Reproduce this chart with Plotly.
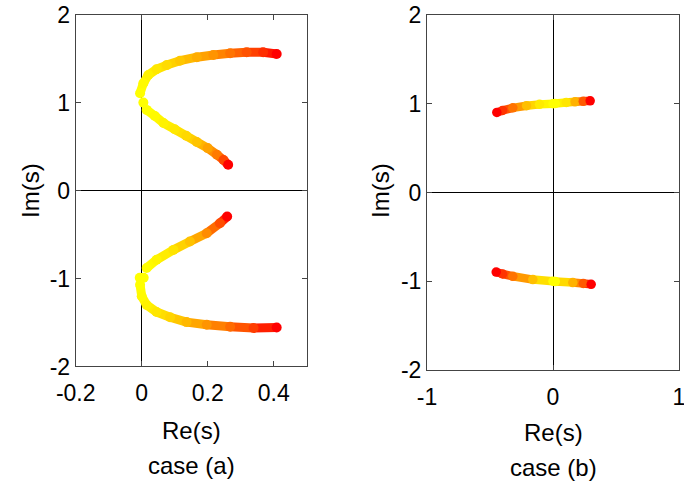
import plotly.graph_objects as go

# ---------------- case (a) ----------------
# upper half, long branch (from near s = j toward upper right)
a_ul_re = [-0.005, 0.005, 0.020, 0.045, 0.076, 0.116, 0.167, 0.217, 0.268, 0.318, 0.368, 0.409]
a_ul_im = [1.110, 1.224, 1.318, 1.383, 1.430, 1.480, 1.520, 1.545, 1.565, 1.576, 1.576, 1.557]
a_ul_c  = [0.00, 0.02, 0.05, 0.09, 0.14, 0.22, 0.32, 0.42, 0.55, 0.68, 0.82, 1.00]
# upper half, short branch (toward real axis)
a_us_re = [0.015, 0.040, 0.066, 0.100, 0.135, 0.167, 0.200, 0.228, 0.248, 0.262]
a_us_im = [0.920, 0.850, 0.770, 0.700, 0.625, 0.555, 0.485, 0.410, 0.350, 0.295]
a_us_c  = [0.00, 0.02, 0.05, 0.09, 0.15, 0.23, 0.36, 0.52, 0.72, 1.00]
# lower half, long branch
a_ll_re = [-0.005, 0.000, 0.015, 0.045, 0.086, 0.136, 0.197, 0.268, 0.339, 0.409]
a_ll_im = [-1.070, -1.200, -1.300, -1.380, -1.440, -1.495, -1.525, -1.548, -1.563, -1.556]
a_ll_c  = [0.00, 0.02, 0.05, 0.10, 0.17, 0.28, 0.42, 0.58, 0.76, 1.00]
# lower half, short branch
a_ls_re = [0.015, 0.045, 0.096, 0.146, 0.197, 0.237, 0.259]
a_ls_im = [-0.880, -0.786, -0.673, -0.578, -0.483, -0.370, -0.294]
a_ls_c  = [0.00, 0.04, 0.11, 0.24, 0.45, 0.70, 1.00]
# isolated starting points near +/- j
a_pt_re = [0.005, -0.006, 0.006]
a_pt_im = [1.003, -0.990, -0.990]
a_pt_c  = [0.0, 0.0, 0.0]

# ---------------- case (b) ----------------
b_ul_re = [0.000, -0.107, -0.210, -0.319, -0.400, -0.446]
b_ul_im = [1.000, 0.993, 0.978, 0.954, 0.925, 0.902]
b_ul_c  = [0.00, 0.08, 0.25, 0.55, 0.80, 1.00]
b_ur_re = [0.018, 0.105, 0.175, 0.240, 0.295]
b_ur_im = [1.003, 1.015, 1.022, 1.028, 1.033]
b_ur_c  = [0.00, 0.10, 0.30, 0.65, 1.00]
b_ll_re = [0.000, -0.160, -0.319, -0.400, -0.451]
b_ll_im = [-1.000, -0.981, -0.944, -0.918, -0.896]
b_ll_c  = [0.00, 0.25, 0.55, 0.80, 1.00]
b_lr_re = [0.018, 0.157, 0.240, 0.303]
b_lr_im = [-1.003, -1.015, -1.025, -1.034]
b_lr_c  = [0.00, 0.30, 0.65, 1.00]

a_xticks = [-0.2, 0, 0.2, 0.4]
a_xtext = ["-0.2", "0", "0.2", "0.4"]
b_xticks = [-1, 0, 1]
b_xtext = ["-1", "0", "1"]
yticks = [-2, -1, 0, 1, 2]
ytext = ["-2", "-1", "0", "1", "2"]


def col(t):
    return "rgb(255,%d,0)" % round(255 * (1 - t))


fig = go.Figure()


def add_branch(re, im, c, xa, ya, lw, ms, lines=True):
    if lines:
        for i in range(len(re) - 1):
            fig.add_trace(go.Scatter(
                x=[re[i], re[i + 1]], y=[im[i], im[i + 1]], mode="lines",
                line=dict(color=col((c[i] + c[i + 1]) / 2), width=lw),
                xaxis=xa, yaxis=ya, showlegend=False, hoverinfo="skip"))
    fig.add_trace(go.Scatter(
        x=re, y=im, mode="markers",
        marker=dict(size=ms, color=[col(t) for t in c], line=dict(width=0)),
        xaxis=xa, yaxis=ya, showlegend=False))


for re, im, c in [(a_ul_re, a_ul_im, a_ul_c), (a_us_re, a_us_im, a_us_c),
                  (a_ll_re, a_ll_im, a_ll_c), (a_ls_re, a_ls_im, a_ls_c)]:
    add_branch(re, im, c, "x", "y", 9, 10)
add_branch(a_pt_re, a_pt_im, a_pt_c, "x", "y", 9, 10, lines=False)

for re, im, c in [(b_ul_re, b_ul_im, b_ul_c), (b_ur_re, b_ur_im, b_ur_c),
                  (b_ll_re, b_ll_im, b_ll_c), (b_lr_re, b_lr_im, b_lr_c)]:
    add_branch(re, im, c, "x2", "y2", 8.5, 9.5)

tickfont = dict(family="Liberation Sans, Arial, sans-serif", size=23, color="black")
axcommon = dict(showline=True, linecolor="#444", linewidth=1, mirror="ticks",
                ticks="inside", ticklen=5, tickcolor="#444", tickwidth=1,
                showgrid=False, zeroline=True, zerolinecolor="black", zerolinewidth=1.2,
                tickfont=tickfont, automargin=False, ticklabeloverflow="allow")

fig.update_layout(
    width=684, height=484,
    margin=dict(l=0, r=0, t=0, b=0, pad=0),
    paper_bgcolor="white", plot_bgcolor="white",
    xaxis=dict(domain=[0.1107, 0.4484], range=[-0.2, 0.5], tickvals=a_xticks,
               ticktext=a_xtext, anchor="y", ticklabelstandoff=6, **axcommon),
    yaxis=dict(domain=[0.2428, 0.969], range=[-2, 2], tickvals=yticks,
               ticktext=ytext, anchor="x", **axcommon),
    xaxis2=dict(domain=[0.6243, 0.9927], range=[-1, 1], tickvals=b_xticks,
                ticktext=b_xtext, anchor="y2", ticklabelstandoff=6, **axcommon),
    yaxis2=dict(domain=[0.2355, 0.969], range=[-2, 2], tickvals=yticks,
                ticktext=ytext, anchor="x2", **axcommon),
    font=dict(family="Liberation Sans, Arial, sans-serif", color="black"),
)

tfont = dict(family="Liberation Sans, Arial, sans-serif", size=24, color="black")
annots = [
    ("Re(s)", 191 / 684, 1 - 430 / 484, 0),
    ("case (a)", 191 / 684, 1 - 465 / 484, 0),
    ("Re(s)", 553 / 684, 1 - 432 / 484, 0),
    ("case (b)", 553 / 684, 1 - 467 / 484, 0),
    ("Im(s)", 30 / 684, 1 - 191 / 484, -90),
    ("Im(s)", 380 / 684, 1 - 191 / 484, -90),
]
for txt, x, y, ang in annots:
    fig.add_annotation(text=txt, x=x, y=y, xref="paper", yref="paper",
                       xanchor="center", yanchor="middle", showarrow=False,
                       textangle=ang, font=tfont)

fig.write_html(
    "out.html",
    config={"displayModeBar": False},
    post_script="document.body.style.margin='0';document.body.style.overflow='hidden';",
)
